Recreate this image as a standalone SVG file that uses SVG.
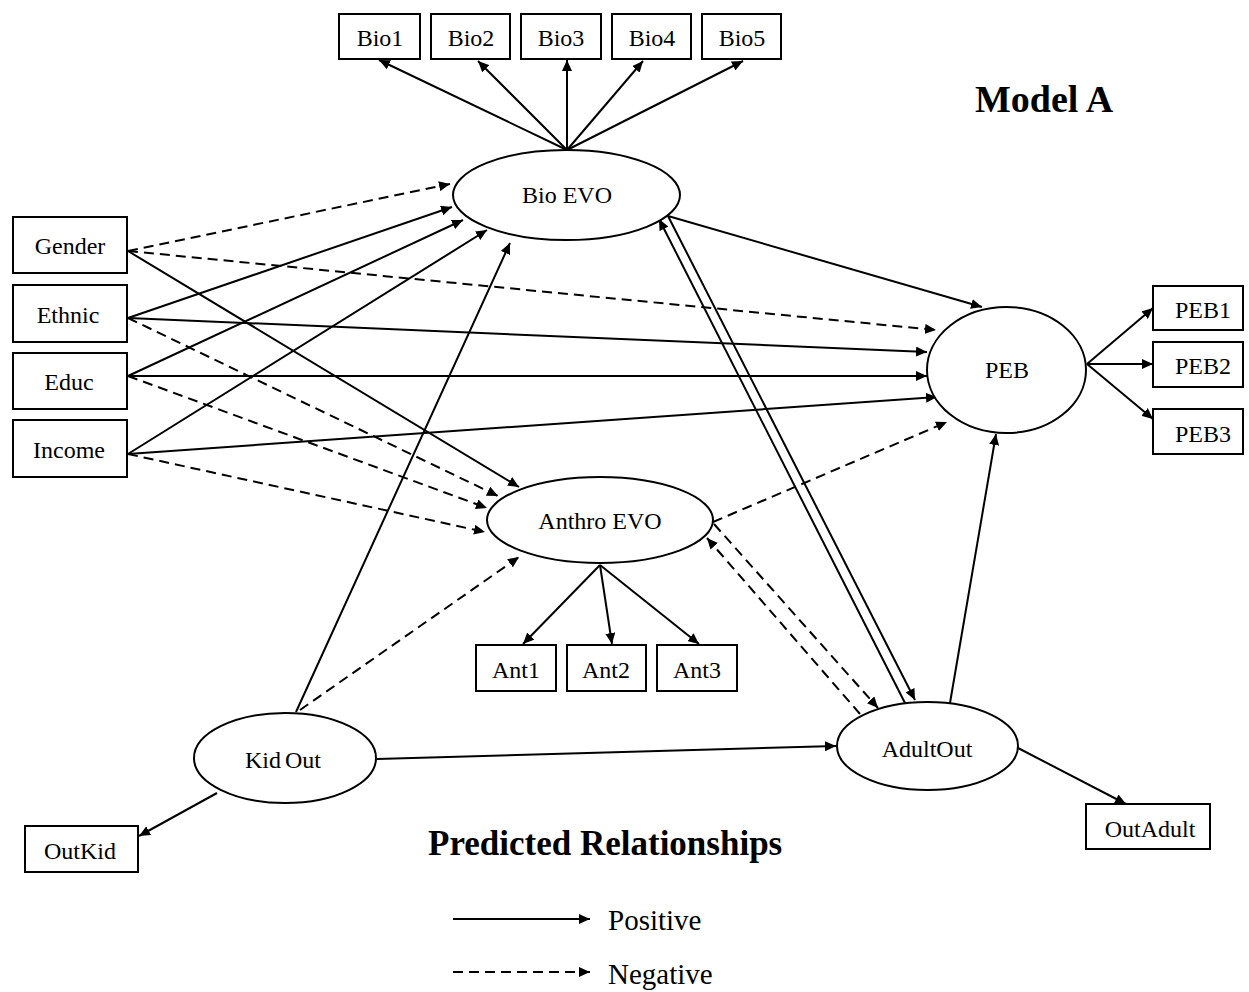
<svg xmlns="http://www.w3.org/2000/svg" width="1249" height="992" viewBox="0 0 1249 992">
<style>
  .box { fill: #fff; stroke: #000; stroke-width: 2; }
  .ell { fill: #fff; stroke: #000; stroke-width: 2; }
  .lbl { font-family: "Liberation Serif", "Times New Roman", serif; font-size: 24px; fill: #000; text-anchor: middle; }
  .title { font-family: "Liberation Serif", "Times New Roman", serif; font-weight: bold; fill: #000; }
  .leg { font-family: "Liberation Serif", "Times New Roman", serif; font-size: 29px; fill: #000; }
  .s { stroke: #000; stroke-width: 2; fill: none; marker-end: url(#ah); }
  .d { stroke: #000; stroke-width: 2; fill: none; stroke-dasharray: 10 6; marker-end: url(#ah); }
</style>
<defs>
  <marker id="ah" markerUnits="userSpaceOnUse" markerWidth="12" markerHeight="10" refX="11" refY="5" orient="auto">
    <path d="M0,0 L11,5 L0,10 z" fill="#000"/>
  </marker>
</defs>
<rect width="1249" height="992" fill="#fff"/>

<g id="connectors">
  <!-- Bio EVO indicators -->
  <line class="s" x1="567" y1="150" x2="379" y2="60"/>
  <line class="s" x1="567" y1="150" x2="478" y2="61"/>
  <line class="s" x1="567" y1="150" x2="567" y2="60"/>
  <line class="s" x1="567" y1="150" x2="643" y2="61"/>
  <line class="s" x1="567" y1="150" x2="743" y2="61"/>
  <!-- Gender -->
  <line class="d" x1="128" y1="251" x2="450" y2="184"/>
  <line class="d" x1="128" y1="251" x2="936" y2="330"/>
  <line class="s" x1="128" y1="251" x2="519" y2="487"/>
  <!-- Ethnic -->
  <line class="s" x1="128" y1="318" x2="452" y2="207"/>
  <line class="s" x1="128" y1="318" x2="927" y2="352"/>
  <line class="d" x1="128" y1="318" x2="498" y2="496"/>
  <!-- Educ -->
  <line class="s" x1="128" y1="376" x2="463" y2="220"/>
  <line class="s" x1="128" y1="376" x2="927" y2="376"/>
  <line class="d" x1="128" y1="376" x2="487" y2="508"/>
  <!-- Income -->
  <line class="s" x1="128" y1="454" x2="487" y2="230"/>
  <line class="s" x1="128" y1="454" x2="937" y2="397"/>
  <line class="d" x1="128" y1="454" x2="485" y2="532"/>
  <!-- KidOut -->
  <line class="s" x1="296" y1="712" x2="510" y2="243"/>
  <line class="d" x1="300" y1="710" x2="519" y2="557"/>
  <line class="s" x1="377" y1="759" x2="836" y2="746"/>
  <line class="s" x1="217" y1="793" x2="139" y2="836"/>
  <!-- Bio EVO / AdultOut / PEB -->
  <line class="s" x1="668" y1="216" x2="982" y2="307"/>
  <line class="s" x1="905" y1="703" x2="659" y2="219"/>
  <line class="s" x1="668" y1="216" x2="915" y2="700"/>
  <line class="s" x1="950" y1="703" x2="996" y2="434"/>
  <line class="s" x1="1018" y1="748" x2="1126" y2="804"/>
  <!-- Anthro EVO -->
  <line class="s" x1="600" y1="565" x2="523" y2="644"/>
  <line class="s" x1="600" y1="565" x2="612" y2="644"/>
  <line class="s" x1="600" y1="565" x2="699" y2="644"/>
  <line class="d" x1="713" y1="522" x2="947" y2="422"/>
  <line class="d" x1="714" y1="524" x2="878" y2="708"/>
  <line class="d" x1="860" y1="714" x2="707" y2="538"/>
  <!-- PEB indicators -->
  <line class="s" x1="1087" y1="364" x2="1153" y2="308"/>
  <line class="s" x1="1087" y1="364" x2="1153" y2="364"/>
  <line class="s" x1="1087" y1="364" x2="1153" y2="419"/>
</g>

<g id="bio1"><rect class="box" x="339" y="14" width="81" height="45"/><text class="lbl" x="380" y="46">Bio1</text></g>
<g id="bio2"><rect class="box" x="431" y="14" width="79" height="45"/><text class="lbl" x="471" y="46">Bio2</text></g>
<g id="bio3"><rect class="box" x="521" y="14" width="80" height="45"/><text class="lbl" x="561" y="46">Bio3</text></g>
<g id="bio4"><rect class="box" x="612" y="14" width="79" height="45"/><text class="lbl" x="652" y="46">Bio4</text></g>
<g id="bio5"><rect class="box" x="702" y="14" width="79" height="45"/><text class="lbl" x="742" y="46">Bio5</text></g>

<g id="bioevo"><ellipse class="ell" cx="566.5" cy="195" rx="113.5" ry="45"/><text class="lbl" x="567" y="203">Bio EVO</text></g>

<g id="gender"><rect class="box" x="13" y="217" width="114" height="56"/><text class="lbl" x="70" y="254">Gender</text></g>
<g id="ethnic"><rect class="box" x="13" y="285" width="114" height="57"/><text class="lbl" x="68" y="323">Ethnic</text></g>
<g id="educ"><rect class="box" x="13" y="353" width="114" height="56"/><text class="lbl" x="69" y="390">Educ</text></g>
<g id="income"><rect class="box" x="13" y="420" width="114" height="57"/><text class="lbl" x="69" y="458">Income</text></g>

<g id="peb"><ellipse class="ell" cx="1006.5" cy="370" rx="79.5" ry="63"/><text class="lbl" x="1007" y="378">PEB</text></g>
<g id="peb1"><rect class="box" x="1153" y="286" width="90" height="44"/><text class="lbl" x="1203" y="318">PEB1</text></g>
<g id="peb2"><rect class="box" x="1153" y="342" width="90" height="45"/><text class="lbl" x="1203" y="374">PEB2</text></g>
<g id="peb3"><rect class="box" x="1153" y="409" width="90" height="45"/><text class="lbl" x="1203" y="442">PEB3</text></g>

<g id="anthroevo"><ellipse class="ell" cx="600" cy="520" rx="113" ry="43"/><text class="lbl" x="600" y="529">Anthro EVO</text></g>
<g id="ant1"><rect class="box" x="476" y="645" width="80" height="46"/><text class="lbl" x="516" y="678">Ant1</text></g>
<g id="ant2"><rect class="box" x="567" y="645" width="79" height="46"/><text class="lbl" x="606" y="678">Ant2</text></g>
<g id="ant3"><rect class="box" x="657" y="645" width="80" height="46"/><text class="lbl" x="697" y="678">Ant3</text></g>

<g id="kidout"><ellipse class="ell" cx="285" cy="758" rx="91" ry="45"/><text class="lbl" x="283" y="768" word-spacing="-2">Kid Out</text></g>
<g id="outkid"><rect class="box" x="25" y="826" width="113" height="46"/><text class="lbl" x="80" y="859">OutKid</text></g>

<g id="adultout"><ellipse class="ell" cx="927.5" cy="746" rx="90.5" ry="44"/><text class="lbl" x="927" y="757">AdultOut</text></g>
<g id="outadult"><rect class="box" x="1086" y="804" width="124" height="45"/><text class="lbl" x="1150" y="837">OutAdult</text></g>

<g id="titles">
  <text class="title" x="975" y="112" font-size="38">Model A</text>
  <text class="title" x="428" y="855" font-size="35">Predicted Relationships</text>
</g>

<g id="legend">
  <line class="s" x1="453" y1="919" x2="590" y2="919"/>
  <line class="d" x1="453" y1="972" x2="590" y2="972" stroke-dasharray="9 10"/>
  <text class="leg" x="608" y="930">Positive</text>
  <text class="leg" x="608" y="984">Negative</text>
</g>
</svg>
